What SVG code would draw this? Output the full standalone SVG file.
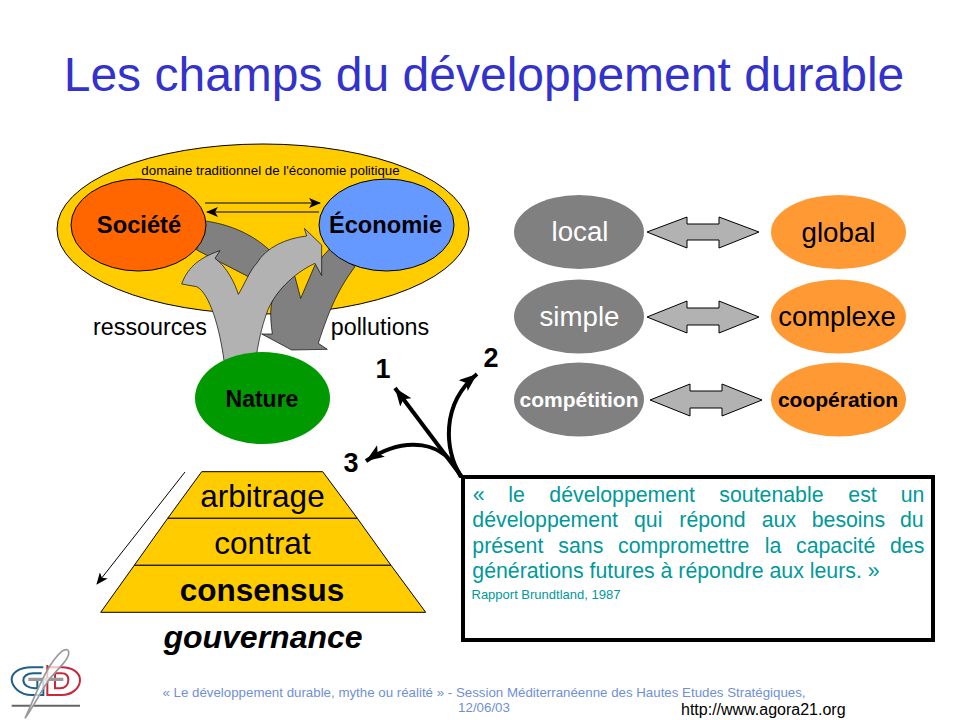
<svg xmlns="http://www.w3.org/2000/svg" width="960" height="720" viewBox="0 0 960 720">
<style>
text{font-family:"Liberation Sans",Arial,sans-serif;fill:#000}
.m{text-anchor:middle}
.b{font-weight:bold}
.o{stroke:#000;stroke-width:1}
.g{fill:#808080}
.or{fill:#FF9933}
.w{fill:#fff;font-size:27.700px}
.da{fill:#B2B2B2;stroke:#000;stroke-width:1}
.q{fill:#009999;font-size:21.300px}
.p{fill:#FFCC00;stroke:#000;stroke-width:1}
.t{stroke:#000;fill:none;stroke-width:4}
.f{fill:#6F8FD8;font-size:13.300px}
</style>
<defs>
<marker id="ah" markerUnits="userSpaceOnUse" markerWidth="12" markerHeight="10" refX="11" refY="5" orient="auto"><path d="M0 0L12 5L0 10L3 5Z" fill="#000"/></marker>
<marker id="ab" markerUnits="userSpaceOnUse" markerWidth="20" markerHeight="16" refX="18" refY="7" orient="auto"><path d="M0 0L18 7L0 14L4 7Z" fill="#000"/></marker>
</defs>
<text id="title" x="484" y="91" class="m" font-size="48" style="fill:#3333CC">Les champs du développement durable</text>
<g id="domaine"><ellipse cx="263" cy="229" rx="206" ry="85" fill="#FFCC00" stroke="#000"/>
<text x="270.500" y="175" class="m" font-size="13.300">domaine traditionnel de l'économie politique</text></g>
<g id="pollutions-arrow" transform="translate(40 130) scale(.33333)"><path d="M490 272C590 285 670 330 720 395L765 440L782 505L825 405L870 355L945 410C900 470 870 530 835 640L862 658L755 660L665 612L697 612C690 560 690 530 700 500L625 440L470 360Z" fill="#808080" stroke="#000" stroke-width="2"/></g>
<g id="societe"><ellipse class="o" cx="138.500" cy="225" rx="67.500" ry="46" fill="#FF6600"/><text x="139" y="233" class="m b" font-size="23.700">Société</text></g>
<g id="economie"><ellipse class="o" cx="386.500" cy="225" rx="67.500" ry="46" fill="#6699FF"/><text x="385.500" y="233" class="m b" font-size="23.700">Économie</text></g>
<g id="ressources-arrow" transform="translate(40 130) scale(.33333)"><path d="M552 692C540 600 510 490 470 470L425 462C440 420 470 385 540 362L525 385C560 410 585 460 595 493C610 470 630 420 650 400C680 350 740 325 800 318L793 295L845 345L845 437L825 400C760 430 700 490 680 550C665 590 655 640 650 672Z" fill="#B2B2B2" stroke="#000" stroke-width="2"/></g>
<g id="nature"><ellipse cx="262.500" cy="398" rx="67.500" ry="46" fill="#009900"/><text x="262" y="407" class="m b" font-size="23">Nature</text></g>
<g id="connectors">
<path d="M205 203H320" stroke="#000" fill="none" marker-end="url(#ah)"/>
<path d="M319 212H207" stroke="#000" fill="none" marker-end="url(#ah)"/>
<path d="M185 472L97 584" stroke="#000" fill="none" marker-end="url(#ah)"/>
<path class="t" d="M462 477L395 388" marker-end="url(#ab)"/>
<path class="t" d="M461 477C445 450 440 405 477 374" marker-end="url(#ab)"/>
<path class="t" d="M461 477C445 440 405 435 366 461" marker-end="url(#ab)"/>
<path class="da" d="M647 232L687 217V224H719V217L759 232L719 248V240H687V248Z"/>
<path class="da" d="M647 317L687 301V308H719V301L759 317L719 333V325H687V333Z"/>
<path class="da" d="M650 400L690 384V391H722V384L762 400L722 416V408H690V416Z"/>
</g>
<text x="150" y="335" class="m" font-size="23.300">ressources</text>
<text x="380" y="335" class="m" font-size="23.300">pollutions</text>
<text x="383" y="378" class="m b" font-size="27">1</text>
<text x="491" y="367" class="m b" font-size="27">2</text>
<text x="351" y="472" class="m b" font-size="27">3</text>
<g id="local"><ellipse class="g" cx="579" cy="232" rx="65" ry="37"/><text class="m w" x="580" y="241">local</text></g>
<g id="simple"><ellipse class="g" cx="579" cy="316.500" rx="65" ry="37"/><text class="m w" x="579.500" y="326">simple</text></g>
<g id="competition"><ellipse class="g" cx="579" cy="399.500" rx="65" ry="37"/><text class="m b" style="fill:#fff" x="579" y="407" font-size="21">compétition</text></g>
<g id="global"><ellipse class="or" cx="838.500" cy="232" rx="67.500" ry="37"/><text class="m" x="838.500" y="242" font-size="27.700">global</text></g>
<g id="complexe"><ellipse class="or" cx="838.500" cy="316.500" rx="67.500" ry="37"/><text class="m" x="837" y="326" font-size="27.500">complexe</text></g>
<g id="cooperation"><ellipse class="or" cx="838.500" cy="399.500" rx="67.500" ry="37"/><text class="m b" x="838" y="407" font-size="21">coopération</text></g>
<g id="pyramide">
<path class="p" d="M201.700 471.700H322.700L357.300 518.300H167.700Z"/>
<path class="p" d="M167.700 518.300H357.300L391 565.300H134.300Z"/>
<path class="p" d="M134.300 565.300H391L425.700 612.300H100.700Z"/>
<text class="m" x="262.500" y="507" font-size="31.500">arbitrage</text>
<text class="m" x="262.500" y="554" font-size="31.500">contrat</text>
<text class="m b" x="262" y="601" font-size="31.500">consensus</text>
<text class="m b" x="263" y="648" font-size="32" font-style="italic">gouvernance</text>
</g>
<g id="citation">
<rect x="463" y="477" width="470" height="163" fill="#fff" stroke="#000" stroke-width="4"/>
<text class="q" y="501.700"><tspan x="472.700">«</tspan> <tspan x="508.300">le</tspan> <tspan x="549.300">développement</tspan> <tspan x="719.300">soutenable</tspan> <tspan x="848.300">est</tspan> <tspan x="900.700">un</tspan></text>
<text class="q" y="526.700"><tspan x="472.300">développement</tspan> <tspan x="634">qui</tspan> <tspan x="679.300">répond</tspan> <tspan x="761.700">aux</tspan> <tspan x="811.700">besoins</tspan> <tspan x="900">du</tspan></text>
<text class="q" y="552.700"><tspan x="472.300">présent</tspan> <tspan x="558.300">sans</tspan> <tspan x="618">compromettre</tspan> <tspan x="764.700">la</tspan> <tspan x="796">capacité</tspan> <tspan x="890">des</tspan></text>
<text class="q" x="472.300" y="578.300">générations futures à répondre aux leurs. »</text>
<text x="471.500" y="599.300" font-size="13" style="fill:#009999">Rapport Brundtland, 1987</text>
</g>
<g id="logo" fill="none" transform="scale(.33333) translate(0 1920)">
<path d="M130 82H95C55 82 35 100 35 118C35 140 60 165 95 165H130V122M125 100H100C80 100 70 110 70 120C70 135 85 145 105 145H112V122" stroke="#1F5F8B" stroke-width="6"/>
<path d="M142 75V165H185C215 165 240 145 240 120C240 100 220 82 185 82H142M165 100H185C200 100 205 110 205 120C205 135 195 145 180 145H165Z" stroke="#C8283C" stroke-width="6"/>
<path d="M85 118H190" stroke="#999" stroke-width="10"/>
<path d="M35 197H240" stroke="#666" stroke-width="6"/>
<path d="M75 235C105 170 140 70 188 32C212 20 212 45 190 70L150 115C125 150 100 200 75 235Z" stroke="#999" stroke-width="5" fill="#fff" fill-opacity=".7"/>
</g>
<text class="f m" x="484" y="697">« Le développement durable, mythe ou réalité » - Session Méditerranéenne  des Hautes Etudes Stratégiques,</text>
<text class="f m" x="484" y="712">12/06/03</text>
<text x="681" y="715" font-size="16">http://www.agora21.org</text>
</svg>
